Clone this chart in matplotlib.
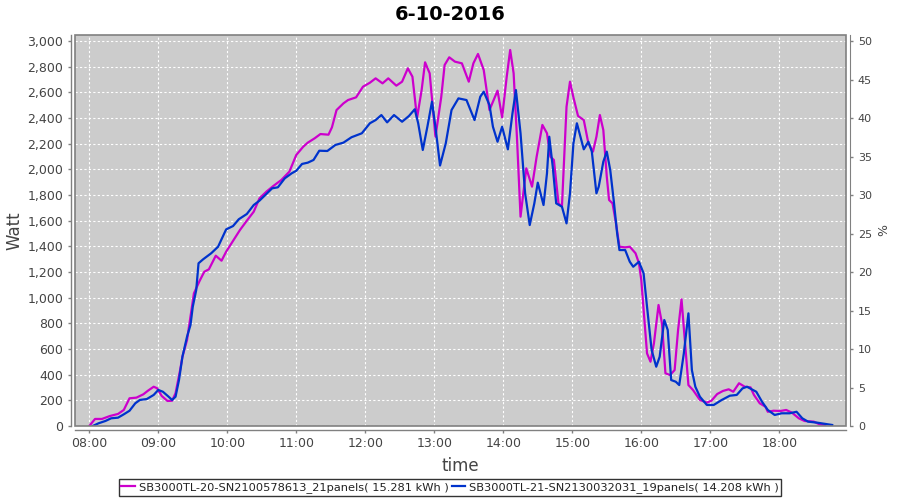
import matplotlib
matplotlib.use("Agg")
import matplotlib.pyplot as plt
from matplotlib.patches import Rectangle
from matplotlib.ticker import FuncFormatter, MultipleLocator

title = "6-10-2016"
label_a = "SB3000TL-20-SN2100578613_21panels( 15.281 kWh )"
label_b = "SB3000TL-21-SN2130032031_19panels( 14.208 kWh )"

times_a = ["08:00", "08:05", "08:11", "08:18", "08:25", "08:30", "08:35", "08:41", "08:47", "08:51",
           "08:56", "08:59", "09:03", "09:08", "09:12", "09:15", "09:19", "09:21", "09:25", "09:28",
           "09:31", "09:36", "09:40", "09:44", "09:50", "09:55", "09:59", "10:05", "10:11", "10:17",
           "10:23", "10:28", "10:34", "10:40", "10:47", "10:54", "11:00", "11:06", "11:10", "11:16",
           "11:21", "11:28", "11:31", "11:35", "11:41", "11:45", "11:52", "11:58", "12:04", "12:09",
           "12:15", "12:20", "12:27", "12:32", "12:37", "12:41", "12:45", "12:49", "12:52", "12:56",
           "13:01", "13:06", "13:09", "13:13", "13:18", "13:24", "13:30", "13:34", "13:38", "13:43",
           "13:48", "13:55", "13:59", "14:03", "14:06", "14:09", "14:12", "14:15", "14:20", "14:25",
           "14:29", "14:34", "14:38", "14:41", "14:44", "14:48", "14:51", "14:55", "14:58", "15:01",
           "15:05", "15:10", "15:14", "15:18", "15:21", "15:24", "15:27", "15:30", "15:32", "15:35",
           "15:38", "15:41", "15:46", "15:50", "15:55", "15:58", "16:00", "16:03", "16:05", "16:08",
           "16:11", "16:15", "16:18", "16:21", "16:25", "16:29", "16:32", "16:35", "16:38", "16:41",
           "16:45", "16:51", "16:57", "17:01", "17:06", "17:11", "17:16", "17:20", "17:25", "17:30",
           "17:35", "17:38", "17:43", "17:48", "17:50", "17:55", "18:01", "18:06", "18:11", "18:17",
           "18:22", "18:30", "18:35", "18:40"]
watt_a = [0, 55, 55, 78, 94, 125, 216, 221, 247, 275,
          306, 294, 234, 195, 197, 255, 436, 540, 670, 852,
          1034, 1132, 1202, 1221, 1327, 1288, 1358, 1442, 1527, 1600,
          1670, 1774, 1826, 1870, 1917, 1982, 2112, 2176, 2208, 2242,
          2275, 2270, 2327, 2462, 2514, 2540, 2561, 2644, 2675, 2709,
          2670, 2709, 2652, 2683, 2787, 2722, 2400, 2618, 2834, 2748,
          2254, 2560, 2813, 2873, 2839, 2826, 2683, 2826, 2899, 2774,
          2462, 2613, 2405, 2722, 2930, 2748, 2229, 1631, 2008, 1865,
          2098, 2346, 2281, 2098, 2073, 1735, 1709, 2488, 2683, 2560,
          2416, 2384, 2203, 2138, 2254, 2423, 2306, 1943, 1761, 1735,
          1580, 1397, 1392, 1397, 1346, 1268, 1138, 800, 566, 501,
          644, 943, 800, 411, 397, 436, 748, 987, 650, 319,
          280, 203, 182, 197, 249, 273, 286, 267, 333, 306,
          301, 242, 177, 150, 111, 119, 117, 125, 104, 60,
          39, 34, 13, 8]

times_b = ["08:03", "08:08", "08:14", "08:19", "08:25", "08:30", "08:35", "08:40", "08:44", "08:50",
           "08:56", "09:00", "09:04", "09:09", "09:12", "09:15", "09:18", "09:21", "09:25", "09:28",
           "09:30", "09:33", "09:35", "09:39", "09:46", "09:52", "09:59", "10:05", "10:10", "10:17",
           "10:23", "10:28", "10:34", "10:39", "10:44", "10:50", "10:56", "11:00", "11:05", "11:10",
           "11:15", "11:20", "11:27", "11:34", "11:41", "11:48", "11:57", "12:04", "12:09", "12:14",
           "12:19", "12:25", "12:32", "12:38", "12:43", "12:46", "12:50", "12:54", "12:58", "13:01",
           "13:05", "13:10", "13:15", "13:21", "13:28", "13:35", "13:40", "13:43", "13:48", "13:51",
           "13:55", "13:59", "14:04", "14:08", "14:11", "14:15", "14:19", "14:23", "14:27", "14:30",
           "14:35", "14:38", "14:40", "14:43", "14:46", "14:51", "14:55", "14:58", "15:01", "15:04",
           "15:10", "15:14", "15:17", "15:21", "15:23", "15:27", "15:30", "15:33", "15:36", "15:39",
           "15:41", "15:46", "15:50", "15:53", "15:58", "16:02", "16:05", "16:09", "16:13", "16:16",
           "16:20", "16:23", "16:26", "16:30", "16:33", "16:37", "16:41", "16:44", "16:47", "16:51",
           "16:57", "17:03", "17:10", "17:17", "17:23", "17:28", "17:32", "17:36", "17:40", "17:45",
           "17:50", "17:56", "18:02", "18:09", "18:15", "18:20", "18:25", "18:33", "18:40", "18:46"]
watt_b = [0, 21, 39, 60, 65, 91, 119, 177, 203, 210,
          242, 281, 267, 228, 203, 228, 358, 540, 696, 787,
          930, 1060, 1268, 1299, 1346, 1397, 1532, 1558, 1611, 1652,
          1722, 1756, 1808, 1852, 1860, 1930, 1969, 1989, 2042, 2052,
          2073, 2145, 2143, 2190, 2208, 2250, 2281, 2359, 2384, 2423,
          2366, 2423, 2371, 2416, 2468, 2359, 2151, 2332, 2527, 2332,
          2030, 2203, 2462, 2553, 2540, 2384, 2566, 2605, 2501, 2332,
          2215, 2332, 2156, 2437, 2618, 2281, 1813, 1566, 1735, 1896,
          1722, 1969, 2254, 2021, 1735, 1709, 1579, 1813, 2203, 2359,
          2156, 2215, 2138, 1813, 1865, 2060, 2138, 1995, 1761, 1502,
          1371, 1371, 1280, 1241, 1280, 1190, 930, 592, 462, 540,
          826, 748, 358, 345, 319, 566, 878, 436, 306, 228,
          164, 164, 203, 236, 242, 293, 306, 286, 267, 189,
          125, 86, 99, 99, 111, 60, 34, 26, 16, 8]

x_ticks = ["08:00", "09:00", "10:00", "11:00", "12:00", "13:00", "14:00", "15:00", "16:00", "17:00", "18:00"]


def hours(s):
    h, m = s.split(":")
    return int(h) + int(m) / 60.0


xa = [hours(t) for t in times_a]
xb = [hours(t) for t in times_b]

plt.rcParams['font.family'] = ['DejaVu Sans']
fig = plt.figure(figsize=(9, 5), dpi=100)
ax = fig.add_axes([75 / 900, 1 - 426 / 500, (846 - 75) / 900, (426 - 35) / 500])
ax.set_facecolor('#cccccc')

grey = '#808080'
tick_col = '#444444'

la, = ax.plot(xa, watt_a, color='#cc00cc', lw=1.6, label=label_a, zorder=3,
              solid_joinstyle='round')
lb, = ax.plot(xb, watt_b, color='#0033cc', lw=1.6, label=label_b, zorder=4,
              solid_joinstyle='round')

ax.set_xlim(7.793, 18.967)
ymax = 3046.8
ax.set_ylim(0, ymax)
ax.set_xticks([hours(t) for t in x_ticks])
ax.set_xticklabels(x_ticks)
ax.yaxis.set_major_locator(MultipleLocator(200))
ax.yaxis.set_major_formatter(FuncFormatter(lambda v, p: f"{int(round(v)):,}"))
ax.grid(True, color='white', linestyle=(0, (2, 2)), linewidth=0.8, zorder=1)
ax.set_axisbelow(True)

for side in ['top', 'right']:
    ax.spines[side].set_visible(False)
for side in ['left', 'bottom']:
    ax.spines[side].set_position(('outward', 3))
    ax.spines[side].set_color(grey)
    ax.spines[side].set_linewidth(1)
ax.tick_params(axis='both', colors=grey, labelcolor=tick_col, labelsize=9, length=2, width=1)
ax.tick_params(axis='x', pad=3)

ax.add_patch(Rectangle((0, 0), 1, 1, transform=ax.transAxes, fill=False,
                       edgecolor=grey, lw=1.2, zorder=10, clip_on=False))

ax2 = ax.twinx()
ax2.set_ylim(0, ymax / 60.0)
ax2.yaxis.set_major_locator(MultipleLocator(5))
for side in ['top', 'left', 'bottom']:
    ax2.spines[side].set_visible(False)
ax2.spines['right'].set_position(('outward', 3))
ax2.spines['right'].set_color(grey)
ax2.tick_params(axis='y', colors=grey, labelcolor=tick_col, labelsize=8, length=2, width=1)
ax2.set_ylabel('%', fontsize=9, color=tick_col, labelpad=4)

ax.set_ylabel('Watt', fontsize=12, color='#444444', labelpad=3)
ax.set_xlabel('time', fontsize=12, color='#444444', labelpad=5)
fig.text(0.5, 0.972, title, ha='center', va='center', fontsize=14, fontweight='bold')

leg = fig.legend(handles=[la, lb], loc='center', bbox_to_anchor=(0.5, 0.0245), ncol=2,
                 frameon=True, fancybox=False, edgecolor='black', fontsize=8.2,
                 handlelength=1.2, handletextpad=0.3, columnspacing=0.3,
                 borderpad=0.25, borderaxespad=0)
leg.get_frame().set_linewidth(1.0)
for t in leg.get_texts():
    t.set_color('#222222')

fig.savefig('out.png', dpi=100)
